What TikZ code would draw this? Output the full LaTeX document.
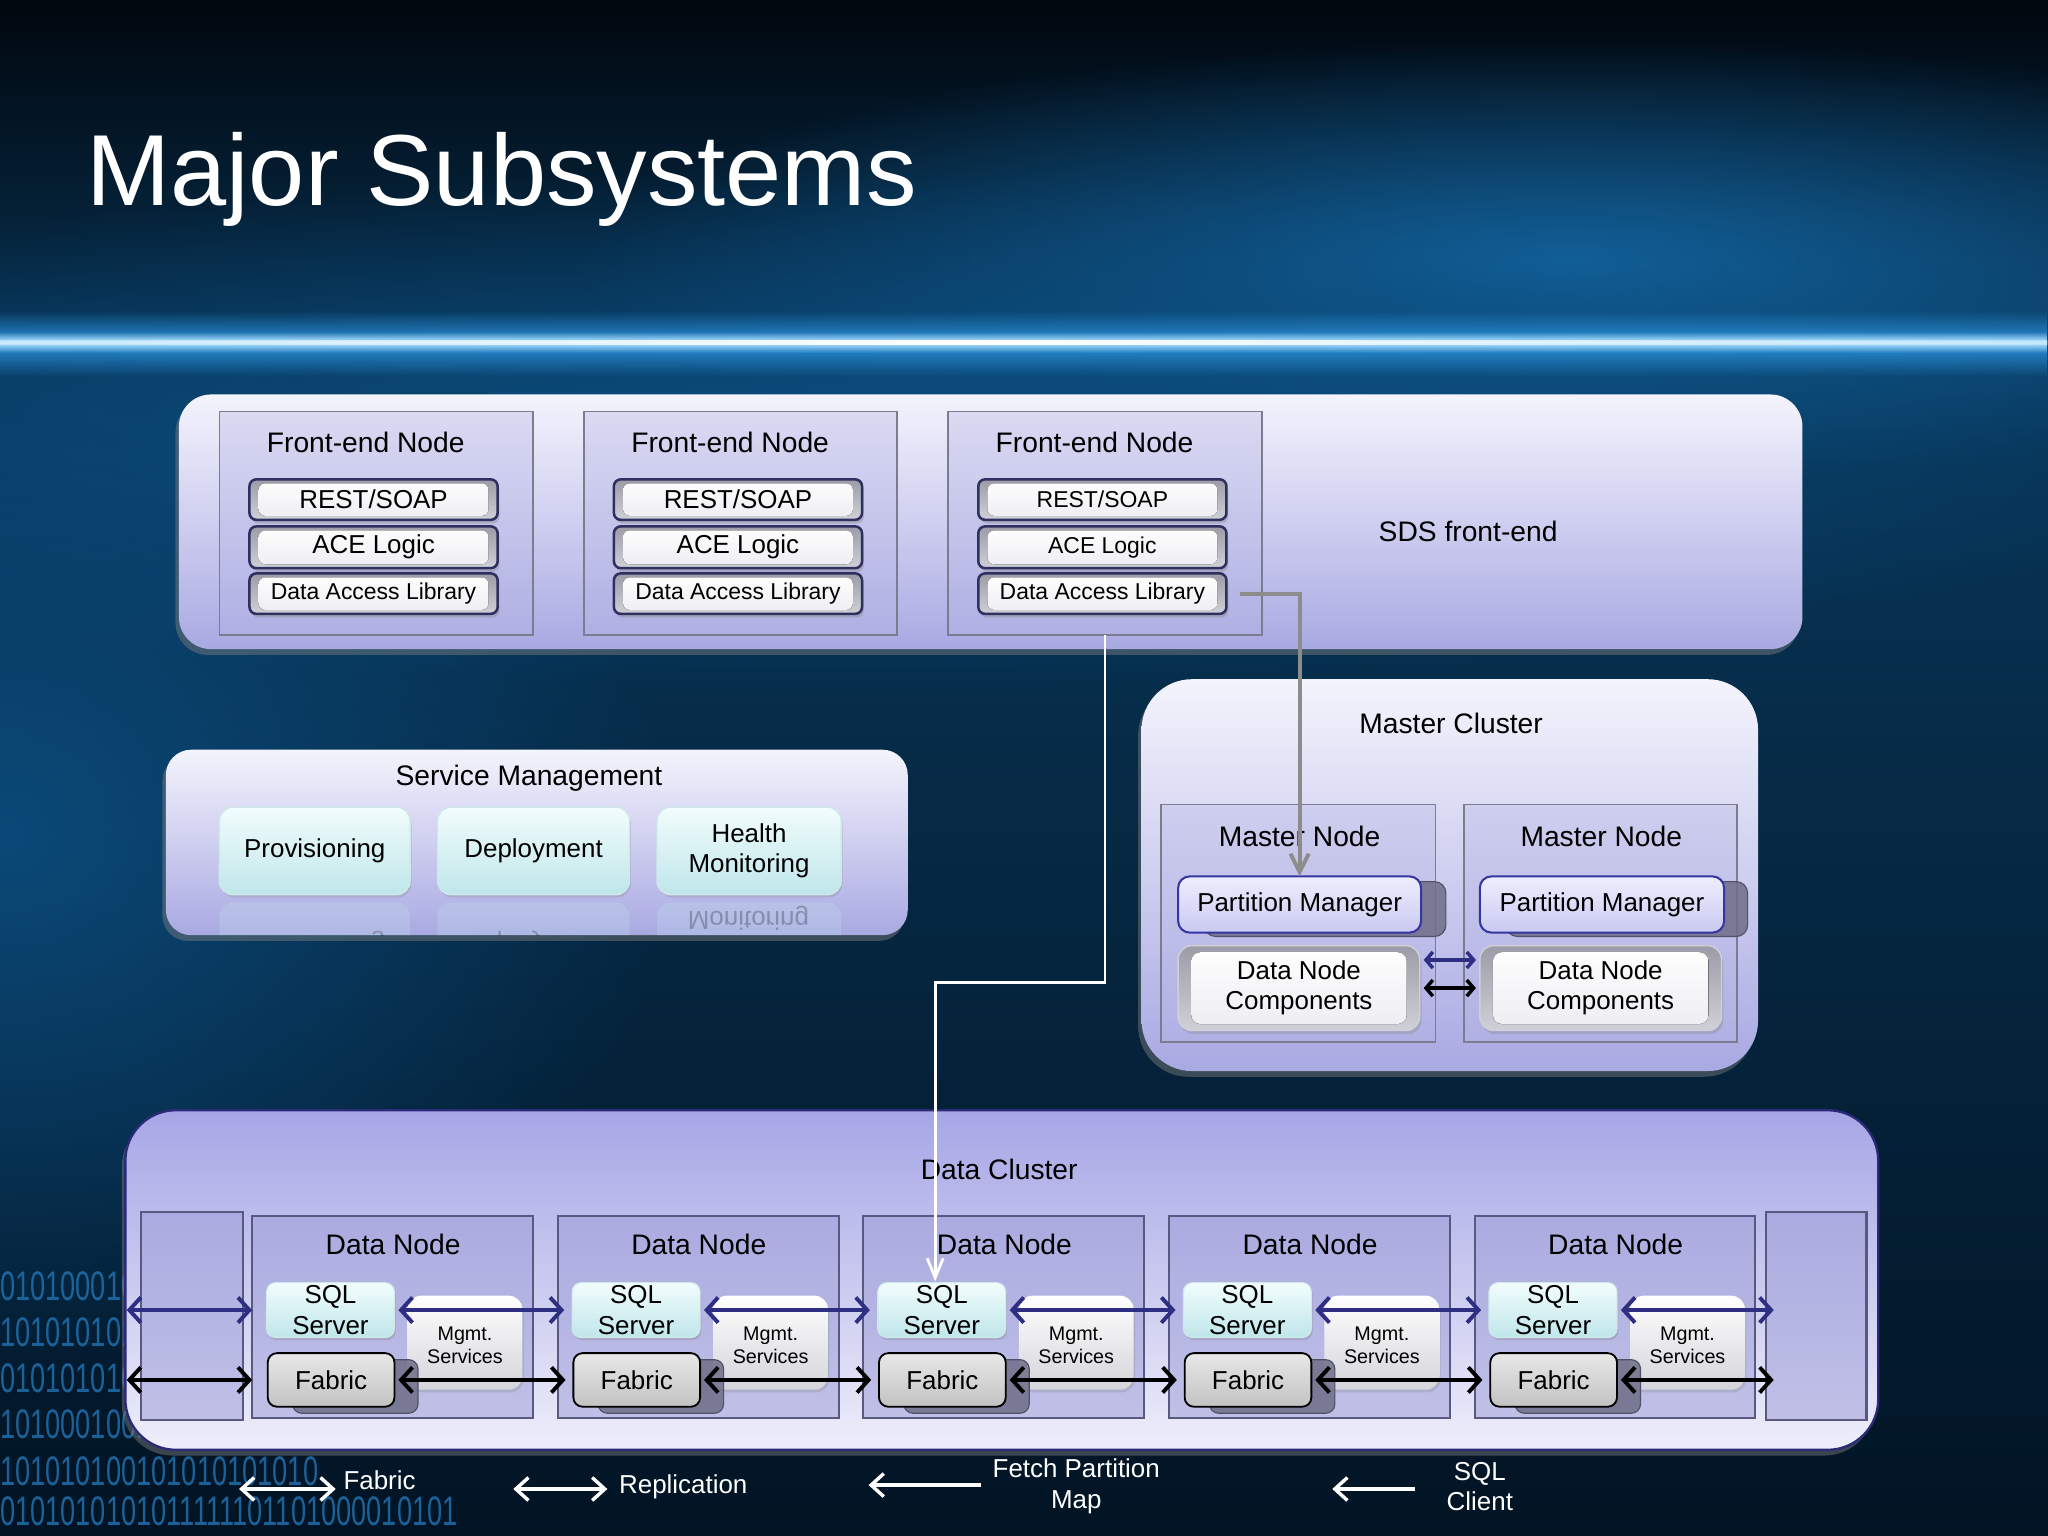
\documentclass[tikz,border=0pt]{standalone}
\usepackage{fontspec}
\setmainfont{Liberation Sans}
\usetikzlibrary{arrows.meta,fadings,shadows,fit,calc}

\definecolor{navyA}{HTML}{2E2E82}
\definecolor{bgTopA}{HTML}{01070E}
\definecolor{bgTopB}{HTML}{07304F}
\definecolor{bgBotA}{HTML}{08375A}
\definecolor{bgBotB}{HTML}{021424}
\definecolor{glowA}{HTML}{1468A5}
\definecolor{glowB}{HTML}{0C4F82}
\definecolor{lineGlow}{HTML}{2A90DA}
\definecolor{lineCore}{HTML}{BDE8FF}
\definecolor{pnlTop}{HTML}{F4F4FD}
\definecolor{pnlBot}{HTML}{A9A9E3}
\definecolor{dcTop}{HTML}{A6A6E6}
\definecolor{dcBot}{HTML}{EEEEFB}
\definecolor{dcLine}{HTML}{2A2A78}
\definecolor{boxFill}{HTML}{B4B4E4}
\definecolor{boxLine}{HTML}{7C7C90}
\definecolor{dnFill}{HTML}{9A9AD6}
\definecolor{dnLine}{HTML}{585880}
\definecolor{bevelLine}{HTML}{2F2F60}
\definecolor{bevTop}{HTML}{9C9CA8}
\definecolor{bevBot}{HTML}{D0D0D8}
\definecolor{bevFace}{HTML}{EDEDF2}
\definecolor{cyanTop}{HTML}{F2FDFD}
\definecolor{cyanBot}{HTML}{BFE6EA}
\definecolor{cyanLine}{HTML}{CFE8EA}
\definecolor{pmTop}{HTML}{EEEEFD}
\definecolor{pmBot}{HTML}{C9C9F2}
\definecolor{pmLine}{HTML}{3636A0}
\definecolor{shadowBox}{HTML}{6E6E88}
\definecolor{shadowLine}{HTML}{505068}
\definecolor{binBlue}{HTML}{2274B4}
\definecolor{fetchGray}{HTML}{8C8C8C}
\definecolor{mgBot}{HTML}{D4D4DA}
\definecolor{fabTop}{HTML}{E8E8E8}
\definecolor{fabBot}{HTML}{C2C2C2}

\tikzfading[name=radfade, inner color=transparent!0, outer color=transparent!100]
\tikzfading[name=vfade, top color=transparent!100, bottom color=transparent!100, middle color=transparent!0]
\tikzfading[name=hfade, left color=transparent!100, right color=transparent!100, middle color=transparent!0]

\newcommand\fntT{\fontsize{44pt}{50pt}\selectfont}
\newcommand\fntL{\fontsize{12.3pt}{14pt}\selectfont}
\newcommand\fntM{\fontsize{11.3pt}{13.2pt}\selectfont}
\newcommand\fntS{\fontsize{10pt}{12pt}\selectfont}
\newcommand\fntXS{\fontsize{8.6pt}{10.2pt}\selectfont}
\newcommand\fntBin{\fontsize{18pt}{18pt}\selectfont}

\begin{document}
\begin{tikzpicture}[x=0.02cm, y=-0.02cm,
  every node/.style={inner sep=0pt, outer sep=0pt},
  at box/.style n args={4}{fit={(#1,#2) (#3,#4)}},
  panel/.style={rounded corners=14pt, top color=pnlTop, bottom color=pnlBot,
     drop shadow={opacity=.45, shadow xshift=-1.5pt, shadow yshift=-2.5pt}},
  dpanel/.style={rounded corners=22pt, top color=dcTop, bottom color=dcBot,
     draw=dcLine, line width=1pt,
     drop shadow={opacity=.45, shadow xshift=-1.5pt, shadow yshift=-2.5pt}},
  frame/.style={draw=boxLine, line width=.8pt, fill=boxFill, fill opacity=.35},
  dframe/.style={draw=dnLine, line width=.9pt, fill=dnFill, fill opacity=.5},
  lbl/.style={font=\fntL, text=black},
  boxtxt/.style={font=\fntM, text=black, align=center},
  bevel/.style={draw=bevelLine, line width=1.1pt, rounded corners=3pt,
     top color=bevTop, bottom color=bevBot,
     drop shadow={opacity=.35, shadow xshift=.8pt, shadow yshift=-1.6pt},
     path picture={\fill[top color=white, bottom color=bevFace]
        ($(path picture bounding box.south west)+(7,-3)$) rectangle
        ($(path picture bounding box.north east)+(-7,3)$);}},
  dncbox/.style={draw=bevBot, line width=.6pt, rounded corners=6pt,
     top color=bevTop, bottom color=bevBot,
     drop shadow={opacity=.3, shadow xshift=.8pt, shadow yshift=-1.6pt},
     path picture={\fill[top color=white, bottom color=bevFace, rounded corners=4pt]
        ($(path picture bounding box.south west)+(10,-5)$) rectangle
        ($(path picture bounding box.north east)+(-10,5)$);}},
  smbox/.style={rounded corners=6pt, top color=cyanTop, bottom color=cyanBot,
     draw=cyanLine, line width=.6pt,
     drop shadow={opacity=.25, shadow xshift=.6pt, shadow yshift=-1.2pt}},
  sqlbox/.style={rounded corners=4pt, top color=cyanTop, bottom color=cyanBot,
     draw=cyanLine, line width=.5pt,
     drop shadow={opacity=.3, shadow xshift=.6pt, shadow yshift=-1.2pt}},
  mgmt/.style={rounded corners=6pt, top color=white, bottom color=mgBot,
     drop shadow={opacity=.25, shadow xshift=.6pt, shadow yshift=-1.2pt}},
  fabsh/.style={rounded corners=4pt, fill=shadowBox, fill opacity=.85,
     draw=shadowLine, line width=.5pt},
  fabbox/.style={rounded corners=4pt, top color=fabTop, bottom color=fabBot,
     draw=black, line width=.8pt},
  pmbox/.style={rounded corners=5pt, top color=pmTop, bottom color=pmBot,
     draw=pmLine, line width=.9pt},
  pmsh/.style={rounded corners=5pt, fill=shadowBox, fill opacity=.85,
     draw=shadowLine, line width=.5pt},
  navyarr/.style={draw=navyA, line width=1.7pt, >={Straight Barb[length=5pt,width=11pt]}, <->},
  blkarr/.style={draw=black, line width=1.7pt, >={Straight Barb[length=5pt,width=11pt]}, <->},
  navyarrS/.style={draw=navyA, line width=1.5pt, >={Straight Barb[length=3pt,width=7pt]}, <->},
  blkarrS/.style={draw=black, line width=1.5pt, >={Straight Barb[length=3pt,width=7pt]}, <->},
  fetcharr/.style={draw=fetchGray, line width=1.7pt, -{Straight Barb[length=8pt,width=8pt]}},
  sqlarr/.style={draw=white, line width=1.2pt, -{Straight Barb[length=8.5pt,width=7pt]}},
  legarr/.style={draw=white, line width=1.5pt, >={Straight Barb[length=5.5pt,width=10pt]}},
  legtxt/.style={font=\fntM, text=white, align=center}
]
\useasboundingbox (0,0) rectangle (1568,1176);

% ---------- background ----------
\shade[top color=bgTopA, bottom color=bgTopB] (0,0) rectangle (1568,263);
\shade[top color=bgBotA, bottom color=bgBotB] (0,262) rectangle (1568,1176);
\fill[glowA, path fading=radfade, opacity=.9] (1200,200) ellipse [x radius=760, y radius=170];
\fill[glowB, path fading=radfade, opacity=.9] (650,330) ellipse [x radius=1100, y radius=200];
\fill[glowB, path fading=radfade, opacity=.85] (0,640) ellipse [x radius=520, y radius=430];
\fill[lineGlow, path fading=vfade] (0,238) rectangle (1568,288);
\fill[lineCore, path fading=vfade] (0,254) rectangle (1568,270);
\fill[white, path fading=hfade] (-300,260) rectangle (1800,264.5);

% binary digits
\begin{scope}[text=binBlue, opacity=.8]
\node[anchor=base west, font=\fntBin] (bin1) at (0,996) {\scalebox{0.66}[1]{0101000101}};
\node[anchor=base west, font=\fntBin] (bin2) at (0,1031) {\scalebox{0.66}[1]{1010101010}};
\node[anchor=base west, font=\fntBin] (bin3) at (0,1066) {\scalebox{0.66}[1]{0101010101}};
\node[anchor=base west, font=\fntBin] (bin4) at (0,1101) {\scalebox{0.66}[1]{1010001001}};
\node[anchor=base west, font=\fntBin] (bin5) at (0,1137) {\scalebox{0.66}[1]{101010100101010101010}};
\node[anchor=base west, font=\fntBin] (bin6) at (0,1168) {\scalebox{0.66}[1]{0101010101011111101101000010101}};
\end{scope}

% ---------- title ----------
\node[anchor=base west, font=\fntT, text=white] (title) at (66,157) {Major Subsystems};

% ---------- SDS front-end ----------
\node[panel, at box={137}{302}{1380}{497}] (sds) {};
\node[lbl] (sdsl) at (1124,407) {SDS front-end};
\foreach \i/\o/\rf in {1/0/\fntM, 2/279/\fntM, 3/558/\fntS} {
  \node[frame, at box={168+\o}{315}{408+\o}{486}] (fe\i) {};
  \node[lbl] (fel\i) at (280+\o,339) {Front-end Node};
  \node[bevel, at box={191+\o}{367}{381+\o}{398}] (rest\i) {};
  \node[boxtxt, font=\rf] (restt\i) at (rest\i) {REST/SOAP};
  \node[bevel, at box={191+\o}{403}{381+\o}{435}] (ace\i) {};
  \node[boxtxt, font=\rf] (acet\i) at (ace\i) {ACE Logic};
  \node[bevel, at box={191+\o}{439}{381+\o}{470}] (dal\i) {};
  \node[boxtxt, font=\fntS] (dalt\i) at (dal\i) {Data Access Library};
}

% ---------- Service Management ----------
\node[panel, rounded corners=11pt, at box={127}{574}{695}{716}] (svc) {};
\node[lbl] (svcl) at (405,596) {Service Management};
\begin{scope}
\clip[rounded corners=11pt] (127,574) rectangle (695,716);
\fill[cyanBot, opacity=.25, rounded corners=6pt] (168,691) rectangle (314,740);
\fill[cyanBot, opacity=.25, rounded corners=6pt] (335,691) rectangle (482,740);
\fill[cyanBot, opacity=.25, rounded corners=6pt] (503,691) rectangle (644,740);
\node[font=\fntM, text=black, opacity=.22] (provr) at (241,722) {\scalebox{1}[-1]{Provisioning}};
\node[font=\fntM, text=black, opacity=.22] (depr) at (408,722) {\scalebox{1}[-1]{Deployment}};
\node[font=\fntM, text=black, opacity=.25] (hmr) at (573,703) {\scalebox{1}[-1]{Monitoring}};
\end{scope}
\node[smbox, at box={168}{618}{314}{685}] (prov) {};
\node[boxtxt] (provt) at (prov) {Provisioning};
\node[smbox, at box={335}{618}{482}{685}] (depl) {};
\node[boxtxt] (deplt) at (depl) {Deployment};
\node[smbox, at box={503}{618}{644}{685}] (hmon) {};
\node[boxtxt] (hmont) at (hmon) {Health\\Monitoring};

% ---------- Master Cluster ----------
\node[panel, rounded corners=22pt, at box={874}{520}{1346}{820}] (mc) {};
\node[lbl] (mcl) at (1111,554) {Master Cluster};
\node[frame, at box={889}{616}{1099}{798}] (mn1) {};
\node[frame, at box={1121}{616}{1330}{798}] (mn2) {};
\node[lbl] (mnl1) at (995,640) {Master Node};
\node[lbl] (mnl2) at (1226,640) {Master Node};
\node[pmsh, at box={922}{675}{1107}{717}] (pms1) {};
\node[pmsh, at box={1153}{675}{1338}{717}] (pms2) {};
\node[pmbox, at box={902}{671}{1088}{714}] (pm1) {};
\node[boxtxt] (pmt1) at (pm1) {Partition Manager};
\node[pmbox, at box={1133}{671}{1320}{714}] (pm2) {};
\node[boxtxt] (pmt2) at (pm2) {Partition Manager};
\node[dncbox, at box={902}{724}{1087}{789}] (dnc1) {};
\node[boxtxt] (dnct1) at (dnc1) {Data Node\\Components};
\node[dncbox, at box={1133}{724}{1318}{789}] (dnc2) {};
\node[boxtxt] (dnct2) at (dnc2) {Data Node\\Components};
\draw[navyarrS] ($(dnc1.east)+(3,-21.5)$) -- ($(dnc2.west)+(-3,-21.5)$);
\draw[blkarrS] ($(dnc1.east)+(3,0)$) -- ($(dnc2.west)+(-3,0)$);

% ---------- Data Cluster ----------
\node[dpanel, at box={96}{850}{1438}{1110}] (dc) {};
\node[lbl] (dcl) at (765,895) {Data Cluster};
\node[dframe, at box={108}{928}{186}{1087}] (stubL) {};
\node[dframe, at box={1352}{928}{1429}{1087}] (stubR) {};
\foreach \i/\xo in {1/193, 2/427, 3/661, 4/895, 5/1129} {
  \node[dframe, at box={\xo}{931}{\xo+215}{1086}] (dn\i) {};
  \node[lbl] (dnl\i) at (\xo+108,953) {Data Node};
  \node[mgmt, at box={\xo+119}{992}{\xo+207}{1064}] (mg\i) {};
  \node[boxtxt, font=\fntXS] (mgt\i) at ($(mg\i)+(0,2)$) {Mgmt.\\Services};
  \node[sqlbox, at box={\xo+11}{982}{\xo+109}{1024}] (sql\i) {};
  \node[boxtxt] (sqlt\i) at (sql\i) {SQL\\Server};
  \node[fabsh, at box={\xo+31}{1041}{\xo+127}{1082}] (fs\i) {};
  \node[fabbox, at box={\xo+12}{1036}{\xo+109}{1077}] (fab\i) {};
  \node[boxtxt] (fabt\i) at (fab\i) {Fabric};
}
\draw[navyarr] ($(stubL.west |- sql1.west)+(-11,0)$) -- (dn1.west |- sql1.west);
\draw[blkarr] ($(stubL.west |- fab1.west)+(-11,0)$) -- (dn1.west |- fab1.west);
\foreach \i/\j in {1/2, 2/3, 3/4, 4/5} {
  \draw[navyarr] ($(sql\i.east)+(3,0)$) -- ($(sql\j.west)+(-6,0)$);
  \draw[blkarr] ($(fab\i.east)+(3,0)$) -- ($(fab\j.west)+(-6,0)$);
}
\draw[navyarr] ($(sql5.east)+(3,0)$) -- ($(stubR.west |- sql5.east)+(6,0)$);
\draw[blkarr] ($(fab5.east)+(3,0)$) -- ($(stubR.west |- fab5.east)+(6,0)$);

% ---------- connectors ----------
\draw[fetcharr] ($(dal3.east)+(10,0)$) -| (pm1.north);
\coordinate (sqlturn) at (716,752);
\draw[sqlarr] (fe3.south) |- (sqlturn) -- ($(sql3.north)+(-5,-1)$);

% ---------- legend ----------
\coordinate (lgF1) at (183,1140); \coordinate (lgF2) at (257,1140);
\draw[legarr, <->] (lgF1) -- (lgF2);
\node[legtxt, anchor=west] (lgFt) at (263,1133) {Fabric};
\coordinate (lgR1) at (393,1140); \coordinate (lgR2) at (465,1140);
\draw[legarr, <->] (lgR1) -- (lgR2);
\node[legtxt, anchor=west] (lgRt) at (474,1138) {Replication};
\coordinate (lgP1) at (665,1137); \coordinate (lgP2) at (751,1137);
\draw[legarr, ->] (lgP2) -- (lgP1);
\node[legtxt] (lgPt) at (824,1138) {Fetch Partition\\Map};
\coordinate (lgS1) at (1020,1140); \coordinate (lgS2) at (1083,1140);
\draw[legarr, ->] (lgS2) -- (lgS1);
\node[legtxt] (lgSt) at (1133,1138) {SQL\\Client};
\end{tikzpicture}
\end{document}
